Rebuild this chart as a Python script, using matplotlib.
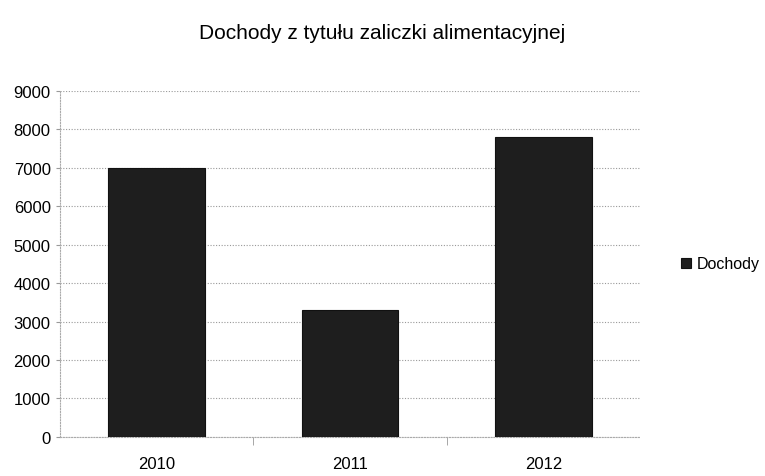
import matplotlib.pyplot as plt
import numpy as np

# chart data
years = ['2010', '2011', '2012']
dochody = [7000, 3300, 7800]
yticks = list(range(0, 10000, 1000))

plt.rcParams['font.family'] = ['Liberation Sans Narrow', 'Liberation Sans', 'DejaVu Sans']

fig = plt.figure(figsize=(7.65, 4.77), dpi=100)
ax = fig.add_axes([0.078, 0.082, 0.759, 0.725])

x = np.arange(len(years))
bars = ax.bar(x, dochody, width=0.5, color='#1e1e1e', edgecolor='#111111',
              linewidth=0.8, label='Dochody', zorder=3)

ax.set_xlim(-0.5, len(years) - 0.5)
ax.set_ylim(0, 9000)
ax.set_yticks(yticks)
ax.set_xticks(x)
ax.set_xticklabels(years)
ax.tick_params(axis='both', labelsize=12, colors='#000000')
ax.tick_params(axis='y', length=3, color='#999999')
ax.tick_params(axis='x', length=0, pad=14)
# minor ticks between categories
ax.set_xticks([0.5, 1.5], minor=True)
ax.tick_params(axis='x', which='minor', length=6, color='#999999')

ax.grid(axis='y', linestyle=(0, (1, 1.5)), color='#999999', linewidth=0.8, zorder=0)
for side in ['top', 'right']:
    ax.spines[side].set_visible(False)
ax.spines['left'].set_linestyle((0, (1, 1.5)))
ax.spines['left'].set_color('#aaaaaa')
ax.spines['bottom'].set_linestyle((0, (1, 1.5)))
ax.spines['bottom'].set_color('#aaaaaa')

fig.text(0.5, 0.93, 'Dochody z tytułu zaliczki alimentacyjnej', ha='center',
         va='center', fontsize=15)

ax.legend(loc='center left', bbox_to_anchor=(1.07, 0.5), frameon=False,
          fontsize=11.5, handlelength=0.6, handleheight=0.6, handletextpad=0.4,
          borderaxespad=0, borderpad=0)

plt.savefig('out.png', dpi=100)
